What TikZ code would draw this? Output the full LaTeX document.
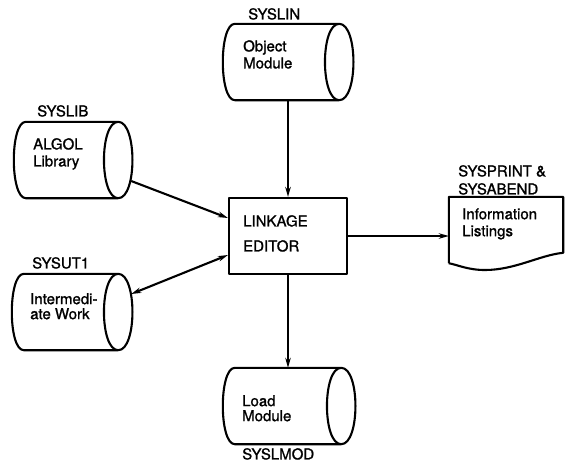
\documentclass[tikz,border=0pt]{standalone}
\usepackage{fontspec}
\setmainfont{TeX Gyre Heros}[FakeBold=1.2]
\usetikzlibrary{arrows.meta}

\tikzset{
  body/.style={minimum width=103pt, minimum height=75pt, inner sep=0pt},
  heavy/.style={line width=2.1pt, line join=round},
  txt/.style={anchor=north west, inner sep=0pt, align=left,
    font=\fontsize{15}{17}\selectfont},
  arr/.style={heavy, -{Stealth[length=10pt,width=5.5pt]}},
  darr/.style={heavy, {Stealth[length=10pt,width=5.5pt]}-{Stealth[length=10pt,width=5.5pt]}},
}

% a drum drawn round the body node #1
\newcommand{\drum}[1]{%
  \draw[heavy] (#1.north west) -- (#1.north east)
    .. controls +(-19,0) and +(-19,0) .. (#1.south east)
    -- (#1.south west) .. controls +(-16,0) and +(-16,0) .. cycle;
  \draw[heavy] (#1.north east) .. controls +(19,0) and +(19,0) .. (#1.south east);}

\begin{document}
\begin{tikzpicture}[x=1pt,y=-1pt]
  \useasboundingbox (0,0) rectangle (569,467);

  % the data sets
  \node[body, minimum width=104pt, minimum height=76pt] (syslin) at (287,62) {};
  \node[body, minimum width=92pt, minimum height=76pt] (syslib) at (72,160) {};
  \node[body, minimum width=94pt, minimum height=76pt] (sysut1) at (71,312) {};
  \node[body, minimum width=106pt, minimum height=76pt] (load) at (288,406) {};
  \foreach \d in {syslin,syslib,sysut1,load} \drum{\d};

  % the program and the listing
  \node[draw, heavy, minimum width=118pt, minimum height=76pt] (edit) at (288,236) {};
  \node[minimum width=114pt, minimum height=66pt] (prt) at (506,230) {};
  \draw[heavy] (prt.south west) -- (prt.north west) -- (prt.north east) -- ++(0,56)
    .. controls (540,255) and (515,270) .. (485,270)
    .. controls (468,270) and (458,265) .. (prt.south west);

  % the texts
  \node[txt] (syslin-lbl) at (248,8) {SYSLIN};
  \node[txt] (syslin-txt) at (243,40) {Object\\Module};
  \node[txt] (syslib-lbl) at (37,105) {SYSLIB};
  \node[txt] (syslib-txt) at (33,138) {ALGOL\\Library};
  \node[txt] (sysut1-lbl) at (32,257) {SYSUT1};
  \node[txt, font=\fontsize{15}{15}\selectfont] (sysut1-txt) at (30,293) {Intermedi-\\ate Work};
  \node[txt] (edit-txt) at (243,215) {LINKAGE\\[8pt]EDITOR};
  \node[txt, font=\fontsize{15}{18}\selectfont] (prt-lbl) at (458,165) {SYSPRINT \&\\SYSABEND};
  \node[txt] (prt-txt) at (462,208) {Information\\Listings};
  \node[txt, font=\fontsize{15}{15}\selectfont] (load-txt) at (242,395) {Load\\Module};
  \node[txt] (syslmod-lbl) at (242,448) {SYSLMOD};

  % the arrows
  \draw[arr] (syslin.south -| edit.north) -- (edit.north);
  \draw[arr] ([xshift=13pt,yshift=-21pt]syslib.east) -- ([yshift=18pt]edit.west);
  \draw[darr] ([xshift=13pt,yshift=18pt]sysut1.east) -- ([yshift=-19pt]edit.west);
  \draw[arr] (edit.east) -- (edit.east -| prt.west);
  \draw[arr] (edit.south) -- (edit.south |- load.north);
\end{tikzpicture}
\end{document}
